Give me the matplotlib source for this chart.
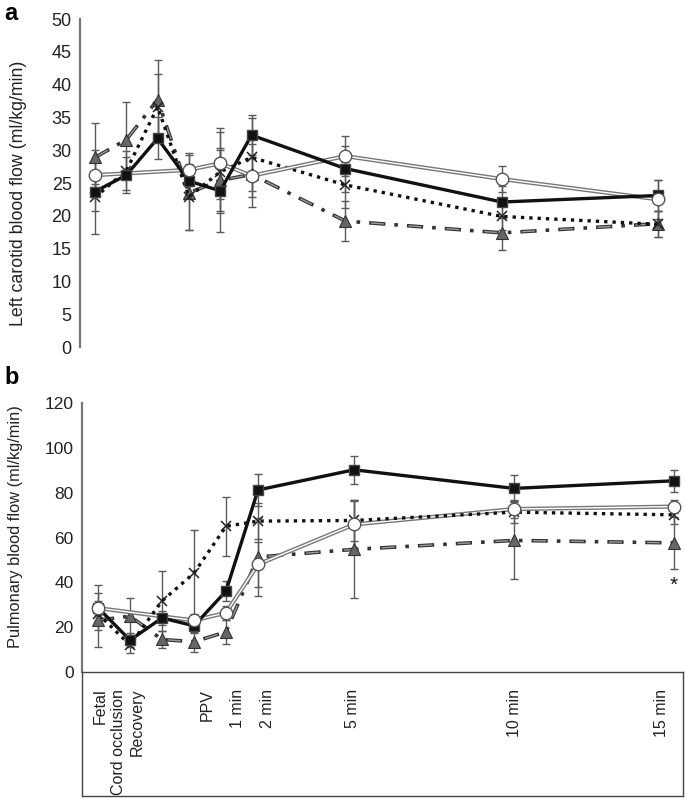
import numpy as np
import matplotlib
matplotlib.use("Agg")
import matplotlib.pyplot as plt

plt.rcParams["font.family"] = ["Liberation Sans", "DejaVu Sans"]

# time points: Fetal, Cord occlusion, Recovery, PPV, 1, 2, 5, 10, 15 min
time_x = [-3, -2, -1, 0, 1, 2, 5, 10, 15]
time_labels = ["Fetal", "Cord occlusion", "Recovery", "PPV", "1 min",
               "2 min", "5 min", "10 min", "15 min"]
label_x = [-2.94, -2.37, -1.78, 0.4, 1.37, 2.3, 4.95, 10.0, 14.6]

nan = np.nan

# panel a - left carotid blood flow
carotid_sq = [23.7, 26.2, 31.8, 25.3, 23.8, 32.3, 27.2, 22.1, 23.1]
carotid_sq_err = [6.4, 2.8, 3.2, 2.5, 6.3, 3.0, 3.5, 2.4, 2.3]
carotid_circ = [26.2, nan, nan, 27.0, 28.0, 26.1, 29.1, 25.6, 22.5]
carotid_circ_err = [2.5, nan, nan, 2.5, 5.4, 4.8, 3.0, 2.0, 3.0]
carotid_x = [22.8, 26.9, 36.6, 22.9, 26.7, 28.9, 24.7, 19.9, 18.7]
carotid_x_err = [2.0, 3.0, 5.0, 5.0, 6.0, 6.0, 3.5, 2.0, 2.0]
carotid_tri = [28.9, 31.6, 37.7, 23.5, 25.4, 26.3, 19.2, 17.4, 18.8]
carotid_tri_err = [5.2, 5.8, 6.0, 5.7, 5.0, 2.5, 3.0, 2.6, 2.0]

# panel b - pulmonary blood flow
pulm_sq = [28.7, 14.2, 24.1, 20.6, 36.1, 81.2, 90.2, 81.9, 85.3]
pulm_sq_err = [10.0, 3.0, 3.0, 3.0, 4.5, 7.0, 6.2, 6.0, 4.8]
pulm_circ = [28.5, nan, nan, 23.0, 26.4, 48.0, 65.8, 72.7, 73.8]
pulm_circ_err = [3.0, nan, nan, 3.0, 3.0, 10.0, 11.0, 4.0, 3.0]
pulm_x = [26.0, 12.0, 31.7, 44.1, 65.0, 67.3, 67.6, 71.3, 70.1]
pulm_x_err = [4.0, 3.5, 13.3, 19.3, 13.2, 8.0, 9.0, 5.0, 4.0]
pulm_tri = [23.1, 24.9, 14.5, 13.5, 17.9, 51.3, 54.7, 58.7, 57.6]
pulm_tri_err = [12.0, 8.3, 4.0, 4.5, 5.5, 17.5, 21.5, 17.4, 11.5]

ERR_COLOR = "#5a5a5a"


def draw_series(ax, y, err, kind):
    x = np.array(time_x, dtype=float)
    y = np.array(y, dtype=float)
    err = np.array(err, dtype=float)
    ok = ~np.isnan(y)
    x, y, err = x[ok], y[ok], err[ok]
    ax.errorbar(x, y, yerr=err, fmt="none", ecolor=ERR_COLOR, elinewidth=1,
                capsize=3, capthick=1, zorder=2)
    if kind == "sq":
        ax.plot(x, y, color="#111111", lw=2.4, zorder=5,
                marker="s", ms=7.5, mfc="#111111", mec="#444444")
    elif kind == "circ":
        # double grey line with open circles
        ax.plot(x, y, color="#777777", lw=3.0, zorder=4)
        ax.plot(x, y, color="white", lw=1.0, zorder=4)
        ax.plot(x, y, ls="none", marker="o", ms=9, mfc="white",
                mec="#555555", mew=1, zorder=6)
    elif kind == "x":
        ax.plot(x, y, color="#111111", lw=2.4, ls=(0, (1, 1.5)), zorder=4,
                marker="x", ms=6.5, mec="#222222", mew=1.1)
    else:
        # dash-dot, grey dashes outlined in dark grey
        l1, = ax.plot(x, y, color="#333333", lw=2.6, zorder=3)
        l1.set_dashes([11.7 / 2.6, 6.5 / 2.6, 2.6 / 2.6, 6.5 / 2.6])
        l2, = ax.plot(x, y, color="#9a9a9a", lw=1.0, zorder=3)
        l2.set_linestyle((27.3 - 1.2, (9.3, 18.0)))
        ax.plot(x, y, ls="none", marker="^", ms=8.5, mfc="#666666",
                mec="#333333", mew=0.8, zorder=3)


fig = plt.figure(figsize=(6.85, 8), dpi=100)

# panel a
ax_a = fig.add_axes([80 / 685, 1 - 347 / 800, 600 / 685, 328 / 800])
draw_series(ax_a, carotid_tri, carotid_tri_err, "tri")
draw_series(ax_a, carotid_x, carotid_x_err, "x")
draw_series(ax_a, carotid_sq, carotid_sq_err, "sq")
draw_series(ax_a, carotid_circ, carotid_circ_err, "circ")
ax_a.set_xlim(-3.48, 15.69)
ax_a.set_ylim(0, 50)
ax_a.set_yticks(range(0, 51, 5))
ax_a.set_xticks([])
for s in ["top", "right", "bottom"]:
    ax_a.spines[s].set_visible(False)
ax_a.spines["left"].set_color("#777777")
ax_a.spines["left"].set_linewidth(1.6)
ax_a.tick_params(axis="y", length=0, pad=6, labelsize=13, labelcolor="#222222")
ax_a.set_ylabel("Left carotid blood flow (ml/kg/min)", fontsize=12.8,
                color="#222222")
ax_a.yaxis.set_label_coords((27 - 80) / 600, 0.47)

# panel b
ax_b = fig.add_axes([82 / 685, 1 - 672 / 800, 601 / 685, 269 / 800])
draw_series(ax_b, pulm_tri, pulm_tri_err, "tri")
draw_series(ax_b, pulm_circ, pulm_circ_err, "circ")
draw_series(ax_b, pulm_x, pulm_x_err, "x")
draw_series(ax_b, pulm_sq, pulm_sq_err, "sq")
ax_b.text(15, 38.7, "*", fontsize=15, ha="center", va="center", color="#111111")
ax_b.set_xlim(-3.5, 15.28)
ax_b.set_ylim(0, 120)
ax_b.set_yticks(range(0, 121, 20))
ax_b.set_xticks([])
for s in ["top", "right", "bottom"]:
    ax_b.spines[s].set_visible(False)
ax_b.spines["left"].set_color("#777777")
ax_b.spines["left"].set_linewidth(1.6)
ax_b.tick_params(axis="y", length=0, pad=6, labelsize=12.5, labelcolor="#222222")
ax_b.set_ylabel("Pulmonary blood flow (ml/kg/min)", fontsize=11.8,
                color="#222222")
ax_b.yaxis.set_label_coords((23 - 82) / 601, 0.54)

# category label box under panel b
ax_c = fig.add_axes([82 / 685, 4 / 800, 601 / 685, 124 / 800])
ax_c.set_xlim(-3.5, 15.28)
ax_c.set_ylim(0, 1)
ax_c.set_yticks([])
ax_c.set_xticks(label_x)
ax_c.set_xticklabels(time_labels, rotation=90, fontsize=11.5, color="#222222")
ax_c.xaxis.set_ticks_position("top")
ax_c.tick_params(axis="x", length=0, pad=-12, direction="in")
for lab in ax_c.get_xticklabels():
    lab.set_va("top")
for s in ax_c.spines.values():
    s.set_color("#444444")
    s.set_linewidth(1.0)

fig.text(4 / 685, 1 - 14 / 800, "a", fontsize=17, fontweight="bold", va="center")
fig.text(4 / 685, 1 - 378 / 800, "b", fontsize=17, fontweight="bold", va="center")

fig.savefig("out.png", dpi=100, facecolor="white")
